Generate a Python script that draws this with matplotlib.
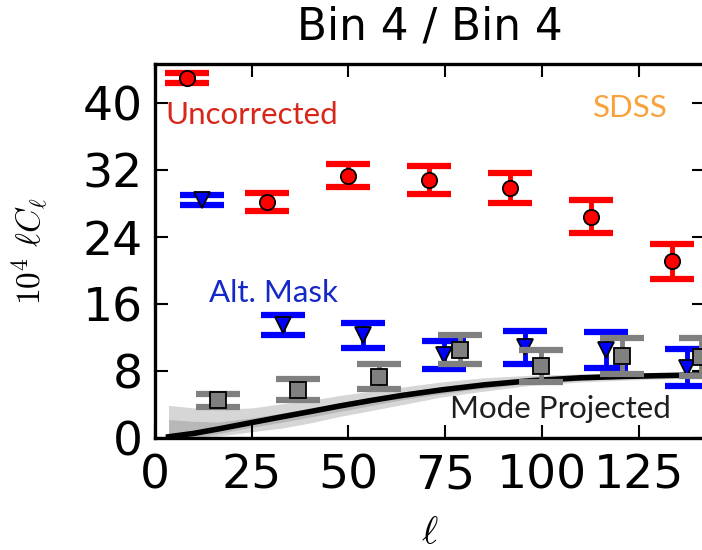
import matplotlib
matplotlib.use("Agg")
import matplotlib.pyplot as plt

# Uncorrected SDSS auto-spectrum (red circles)
ell_unc = [8.2, 29.0, 50.0, 70.8, 91.7, 112.6, 133.5]
cl_unc = [43.0, 28.2, 31.35, 30.85, 29.9, 26.45, 21.1]
err_unc = [0.6, 1.1, 1.35, 1.65, 1.8, 1.95, 2.1]

# Alternative mask (blue triangles)
ell_alt = [12.1, 33.0, 53.8, 74.8, 95.6, 116.5, 137.4]
cl_alt = [28.45, 13.5, 12.3, 9.9, 10.85, 10.55, 8.4]
err_alt = [0.65, 1.15, 1.5, 1.7, 1.95, 2.15, 2.2]

# Mode projected (grey squares)
ell_mp = [16.2, 37.0, 58.0, 78.8, 99.7, 120.6, 141.0]
cl_mp = [4.5, 5.75, 7.3, 10.55, 8.6, 9.8, 9.65]
err_mp = [0.8, 1.25, 1.5, 1.75, 1.9, 2.1, 2.25]

# Theory curve and its uncertainty bands
ell_th = [3.5, 10, 16, 25, 33, 40, 48, 56, 64, 74, 85, 97, 110, 120, 130, 142]
cl_th = [0.15, 0.55, 1.05, 1.85, 2.55, 3.15, 3.85, 4.5, 5.1, 5.75, 6.35, 6.85, 7.2, 7.35, 7.45, 7.55]
band_hi = [3.9, 3.6, 3.45, 3.6, 4.1, 4.5, 5.1, 5.6, 6.1, 6.7, 7.2, 7.5, 7.65, 7.7, 7.75, 7.8]
band_lo = [0.0, 0.0, 0.2, 0.75, 1.2, 1.8, 2.6, 3.3, 4.0, 4.9, 5.6, 6.3, 6.7, 6.9, 7.05, 7.2]
inner_hi = [2.2, 2.0, 1.9, 2.4, 3.0, 3.55, 4.25, 4.9, 5.5, 6.1, 6.7, 7.1, 7.4, 7.5, 7.6, 7.65]
inner_lo = [0.0, 0.0, 0.5, 1.3, 1.9, 2.5, 3.2, 3.9, 4.6, 5.3, 5.95, 6.55, 6.9, 7.1, 7.25, 7.35]

xticks = [0, 25, 50, 75, 100, 125]
yticks = [0, 8, 16, 24, 32, 40]


def draw_points(ax, x, y, err, color, marker, zorder):
    pts = ax.errorbar(x, y, yerr=err, fmt=marker, color=color, ecolor=color,
                      markerfacecolor=color, markeredgecolor="black",
                      markersize=11, elinewidth=3.5, capsize=16, capthick=4.5,
                      zorder=zorder)
    # thin black outline on the markers only, caps keep capthick
    pts[0].set_markeredgewidth(1.3)


def main():
    plt.rcParams["mathtext.fontset"] = "cm"
    fig = plt.figure(figsize=(7.02, 5.5), dpi=100)
    ax = fig.add_axes([0.2208, 0.2036, 0.7828, 0.68])

    # theory bands and curve
    ax.fill_between(ell_th, band_lo, band_hi, color="#d6d6d6", lw=0, zorder=1)
    ax.fill_between(ell_th, inner_lo, inner_hi, color="#b8b8b8", lw=0, zorder=1.5)
    ax.plot(ell_th, cl_th, color="black", lw=4, zorder=2)

    draw_points(ax, ell_alt, cl_alt, err_alt, "blue", "v", 3)
    draw_points(ax, ell_mp, cl_mp, err_mp, "#808080", "s", 4)
    draw_points(ax, ell_unc, cl_unc, err_unc, "red", "o", 5)

    ax.set_xlim(0, 142)
    ax.set_ylim(0, 44.7)
    ax.set_xticks(xticks)
    ax.set_yticks(yticks)
    ax.tick_params(direction="in", length=9.5, width=1.5, labelsize=34,
                   top=True, right=True)
    ax.tick_params(axis="x", pad=11)
    ax.tick_params(axis="y", pad=9)
    for s in ax.spines.values():
        s.set_linewidth(2.4)

    ax.set_title("Bin 4 / Bin 4", fontsize=31.5, pad=18)
    ax.set_xlabel(r"$\ell$", fontsize=28)
    ax.xaxis.set_label_coords(0.5, -0.2)
    ax.set_ylabel(r"$10^4\ \ell C_\ell$", fontsize=24)
    ax.yaxis.set_label_coords(-0.19, 0.5)

    # series labels
    lab = dict(fontsize=22.5, family="Lato", ha="left", va="baseline")
    ax.text(2.6, 37.5, "Uncorrected", color="#d8261a", **lab)
    ax.text(113.1, 38.4, "SDSS", color="#f9a13a", **lab)
    ax.text(14.0, 16.2, "Alt. Mask", color="#1428c8", **lab)
    ax.text(76.2, 2.35, "Mode Projected", color="#1e1e1e", **lab)

    fig.savefig("out.png", dpi=100, facecolor="white")


if __name__ == "__main__":
    main()
